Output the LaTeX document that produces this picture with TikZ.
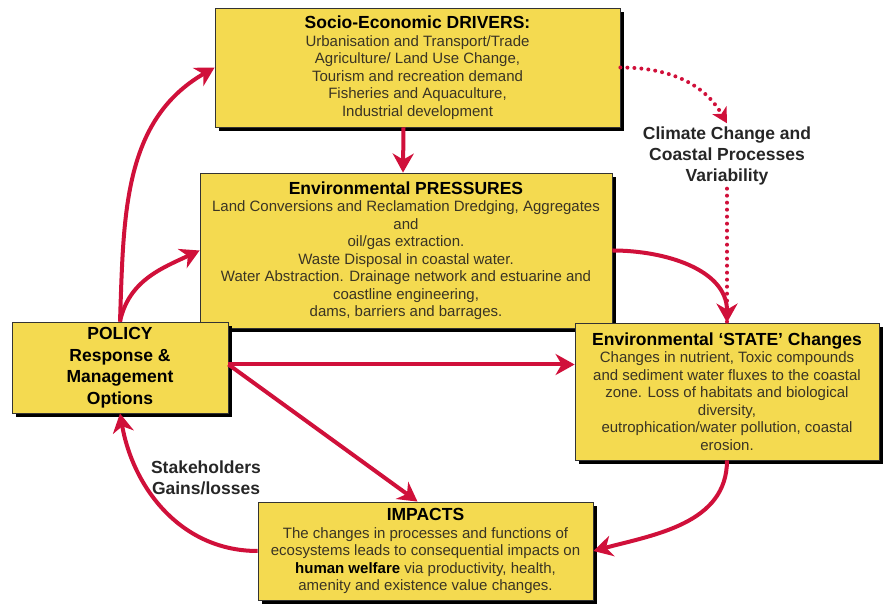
\documentclass[tikz,border=0pt]{standalone}
\usepackage{fontspec}
\setmainfont{Liberation Sans}
\usetikzlibrary{arrows.meta,shadows}
\definecolor{boxyellow}{RGB}{244,218,80}
\definecolor{arrowred}{RGB}{208,16,58}
\definecolor{bodygrey}{RGB}{58,52,36}
\newcommand{\hd}[1]{{\fontsize{17.5}{21}\selectfont\bfseries\color{black}#1}}
\tikzset{> = {Stealth[length=19pt,width=21pt,inset=6pt]},
  box/.style={draw=black!80, line width=0.8pt, fill=boxyellow, align=center, inner sep=3pt,
    text=bodygrey, font=\fontsize{15}{17.5}\selectfont,
    drop shadow={shadow xshift=4pt, shadow yshift=-4pt, fill=black, opacity=1}},
  flow/.style={->, draw=arrowred, line width=4pt},
  dots/.style={draw=arrowred, line width=4pt, line cap=round, dash pattern=on 0pt off 7pt},
  note/.style={align=center, font=\fontsize{17.5}{21}\selectfont\bfseries, text=black!85}}

\begin{document}
\begin{tikzpicture}[x=1pt,y=1pt]
\useasboundingbox (0,0) rectangle (883,607);
% boxes, pressures first so policy and state lie over it
\node[box, minimum width=412, minimum height=155] (pressures) at (406,356.5) {\hd{Environmental PRESSURES}\\ Land Conversions and Reclamation Dredging, Aggregates\\ and\\ oil/gas extraction.\\ Waste Disposal in coastal water.\\ Water Abstraction. Drainage network and estuarine and\\ coastline engineering,\\ dams, barriers and barrages.};
\node[box, minimum width=405, minimum height=119] (drivers) at (417.5,539.5) {\hd{Socio-Economic DRIVERS:}\\ Urbanisation and Transport/Trade\\ Agriculture/ Land Use Change,\\ Tourism and recreation demand\\ Fisheries and Aquaculture,\\ Industrial development};
\node[box, minimum width=216, minimum height=91, font=\fontsize{17.5}{21.5}\selectfont\bfseries, text=black] (policy) at (120,239.5) {POLICY\\ Response \&\\ Management\\ Options};
\node[box, minimum width=304, minimum height=137] (state) at (727,215.5) {\hd{Environmental ‘STATE’ Changes}\\ Changes in nutrient, Toxic compounds\\ and sediment water fluxes to the coastal\\ zone. Loss of habitats and biological\\ diversity,\\ eutrophication/water pollution, coastal\\ erosion.};
\node[box, minimum width=335, minimum height=98] (impacts) at (425.5,56) {\hd{IMPACTS}\\ The changes in processes and functions of\\ ecosystems leads to consequential impacts on\\ {\bfseries\color{black}human welfare} via productivity, health,\\ amenity and existence value changes.};
\node[note] (climate) at (727,451) {Climate Change and\\ Coastal Processes\\ Variability};
\node[note] (stake) at (206,129) {Stakeholders\\ Gains/losses};
% connectors
\draw[flow] ([xshift=-14pt]drivers.south) -- ([xshift=-3pt]pressures.north);
\draw[flow] (policy.north) to[out=88,in=210] (drivers.west);
\draw[flow] (policy.north) to[out=78,in=205] (pressures.west);
\draw[flow] ([yshift=3pt]policy.east) -- ([yshift=3pt]policy.east -| state.west);
\draw[flow] ([yshift=3pt]policy.east) -- ([xshift=-8pt]impacts.north);
\draw[dots,-{Stealth[length=15pt,width=16pt,inset=4pt]}] (drivers.east) to[out=0,in=120] (climate.north);
\draw[dots] (climate.south) -- (state.north);
\draw[flow] (pressures.east) to[out=0,in=90] (state.north);
\draw[flow] (state.south) to[out=-90,in=15] (impacts.east);
\draw[flow] (impacts.west) to[out=180,in=-80] (policy.south);
\end{tikzpicture}
\end{document}
